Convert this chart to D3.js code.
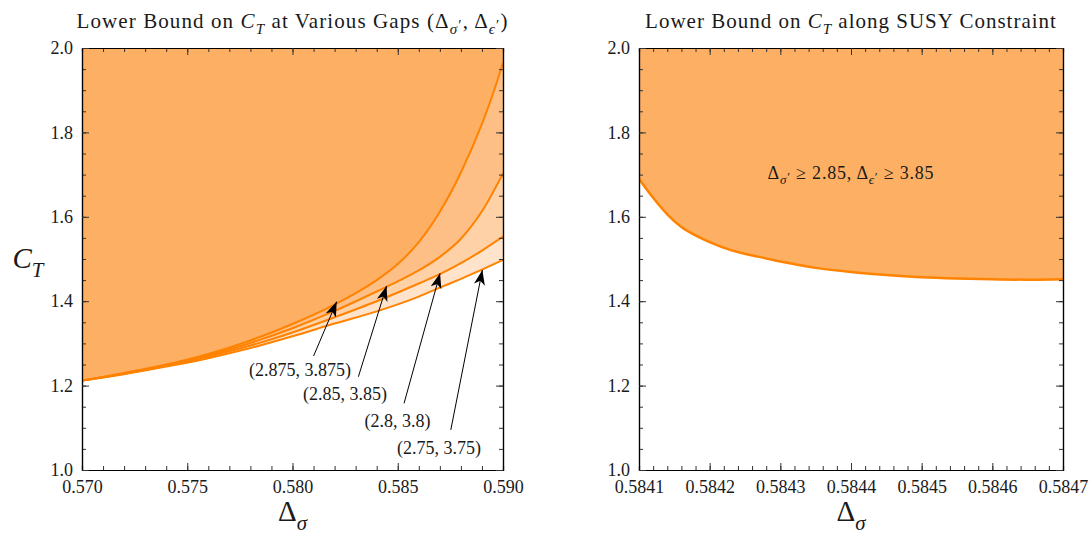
<!DOCTYPE html>
<html>
<head>
<meta charset="utf-8">
<script src="https://cdn.jsdelivr.net/npm/d3@7"></script>
<style>
body { margin: 0; background: #fff; }
text { font-family: "Liberation Serif", "Times New Roman", serif; fill: #1a1a1a; }
</style>
</head>
<body>
<script>
var width = 1089,
    height = 534;

// left panel: lower bound on C_T for several gap assumptions (sigma', epsilon')
var gapLabels = ["(2.875, 3.875)", "(2.85, 3.85)", "(2.8, 3.8)", "(2.75, 3.75)"];
var curveA = [[0.570,1.212],[0.572,1.230],[0.574,1.250],[0.576,1.275],[0.578,1.307],[0.580,1.346],[0.582,1.392],[0.583,1.419],[0.584,1.450],[0.585,1.488],[0.586,1.540],[0.587,1.612],[0.588,1.705],[0.589,1.820],[0.5895,1.888],[0.590,1.965]];
var curveB = [[0.570,1.212],[0.572,1.229],[0.574,1.248],[0.576,1.272],[0.578,1.301],[0.580,1.336],[0.582,1.377],[0.584,1.423],[0.585,1.447],[0.586,1.473],[0.587,1.505],[0.588,1.548],[0.589,1.613],[0.590,1.703]];
var curveC = [[0.570,1.212],[0.572,1.228],[0.574,1.247],[0.576,1.269],[0.578,1.295],[0.580,1.326],[0.582,1.362],[0.584,1.400],[0.586,1.442],[0.587,1.464],[0.588,1.490],[0.589,1.520],[0.590,1.553]];
var curveD = [[0.570,1.212],[0.572,1.227],[0.574,1.245],[0.576,1.265],[0.578,1.289],[0.580,1.317],[0.582,1.347],[0.584,1.376],[0.586,1.411],[0.587,1.432],[0.588,1.453],[0.589,1.475],[0.590,1.498]];
var leftCurves = [curveA, curveB, curveC, curveD];

// arrow annotations (data coords)
var arrowTips  = [[0.58210,1.399],[0.58447,1.436],[0.58701,1.466],[0.58902,1.474]];
var arrowTails = [[0.58100,1.270],[0.58313,1.221],[0.58530,1.158],[0.58752,1.095]];
var labelPos   = [[0.58036,1.237],[0.58249,1.180],[0.58499,1.116],[0.58696,1.052]];

// right panel: SUSY constraint curve
var susyCurve = [[0.58410,1.690],[0.58412,1.645],[0.58414,1.606],[0.58416,1.576],[0.58418,1.556],[0.58420,1.540],[0.58423,1.521],[0.58427,1.505],[0.58430,1.494],[0.58435,1.479],[0.58440,1.469],[0.58445,1.462],[0.58450,1.457],[0.58455,1.454],[0.58460,1.452],[0.58465,1.451],[0.58470,1.452]];

// ticks
var yTicks = [1.0, 1.2, 1.4, 1.6, 1.8, 2.0];
var leftXTicks = [0.570, 0.575, 0.580, 0.585, 0.590];
var rightXTicks = [0.5841, 0.5842, 0.5843, 0.5844, 0.5845, 0.5846, 0.5847];

var fillColors = ["#fdb064", "#fdbf85", "#fed1a6", "#ffe3ca"];
var lineColor = "#ff8200";

var svg = d3.select("body").append("svg")
    .attr("width", width)
    .attr("height", height);

var defs = svg.append("defs");
defs.append("marker")
    .attr("id", "head")
    .attr("markerUnits", "userSpaceOnUse")
    .attr("viewBox", "-15 -6 16 12")
    .attr("refX", 0).attr("refY", 0)
    .attr("markerWidth", 16).attr("markerHeight", 12)
    .attr("orient", "auto")
  .append("path")
    .attr("d", "M0,0 L-15,-5.5 L-11,0 L-15,5.5 Z")
    .attr("fill", "#000");

// rich text helper: parts = [text, style]; i italic, s subscript, p prime on a subscript
function rich(sel, parts, size) {
  var shift = 0;
  parts.forEach(function(p) {
    var st = p[1] || "";
    var target = st.indexOf("s") >= 0 ? size * 0.3 : st.indexOf("p") >= 0 ? size * 0.1 : 0;
    var t = sel.append("tspan").text(p[0]).attr("dy", target - shift);
    shift = target;
    if (st.indexOf("i") >= 0) t.attr("font-style", "italic");
    if (st.indexOf("s") >= 0 || st.indexOf("p") >= 0) t.attr("font-size", size * 0.72);
  });
  return sel;
}

function panel(x0, x1, xDomain, xTicks, xStep, fmt, id) {
  var x = d3.scaleLinear().domain(xDomain).range([x0, x1]);
  var y = d3.scaleLinear().domain([1, 2]).range([470, 48]);
  var g = svg.append("g");

  defs.append("clipPath").attr("id", id)
    .append("rect").attr("x", x0).attr("y", 48).attr("width", x1 - x0).attr("height", 422);

  var xMinor = d3.range(xDomain[0], xDomain[1] + xStep / 2, xStep);
  var yMinor = d3.range(1, 2.001, 0.05);

  var plot = g.append("g").attr("clip-path", "url(#" + id + ")");

  // frame and ticks
  function styleAxis(a) {
    a.attr("font-family", "Liberation Serif").attr("font-size", 18);
    a.selectAll("line").attr("stroke", "#333");
    a.select(".domain").attr("stroke", "#000").attr("stroke-width", 1.2);
  }
  var fr = g.append("g");
  fr.append("g").attr("transform", "translate(0,470)")
    .call(d3.axisBottom(x).tickValues(xMinor).tickSize(-4).tickFormat(""));
  fr.append("g").attr("transform", "translate(0,48)")
    .call(d3.axisTop(x).tickValues(xMinor).tickSize(-4).tickFormat(""));
  fr.append("g").attr("transform", "translate(" + x0 + ",0)")
    .call(d3.axisLeft(y).tickValues(yMinor).tickSize(-4).tickFormat(""));
  fr.append("g").attr("transform", "translate(" + x1 + ",0)")
    .call(d3.axisRight(y).tickValues(yMinor).tickSize(-4).tickFormat(""));
  fr.append("g").attr("transform", "translate(0,470)")
    .call(d3.axisBottom(x).tickValues(xTicks).tickSizeInner(-7).tickSizeOuter(0).tickPadding(10).tickFormat(fmt));
  fr.append("g").attr("transform", "translate(0,48)")
    .call(d3.axisTop(x).tickValues(xTicks).tickSizeInner(-7).tickSizeOuter(0).tickFormat(""));
  fr.append("g").attr("transform", "translate(" + x0 + ",0)")
    .call(d3.axisLeft(y).tickValues(yTicks).tickSizeInner(-7).tickSizeOuter(0).tickPadding(9).tickFormat(d3.format(".1f")));
  fr.append("g").attr("transform", "translate(" + x1 + ",0)")
    .call(d3.axisRight(y).tickValues(yTicks).tickSizeInner(-7).tickSizeOuter(0).tickFormat(""));
  fr.selectAll("g").each(function() { styleAxis(d3.select(this)); });
  fr.selectAll("text").attr("fill", "#1a1a1a");

  // x label
  rich(g.append("text").attr("x", (x0 + x1) / 2).attr("y", 521)
      .attr("text-anchor", "middle").attr("font-size", 29),
    [["\u0394"], ["\u03c3", "is"]], 29);

  return {x: x, y: y, g: g, plot: plot, frame: fr};
}

// ---- left panel ----
var L = panel(82, 503, [0.570, 0.590], leftXTicks, 0.001, d3.format(".3f"), "clipL");

var areaL = d3.area()
    .x(function(d) { return L.x(d[0]); })
    .y0(L.y(2.05))
    .y1(function(d) { return L.y(d[1]); })
    .curve(d3.curveMonotoneX);
var lineL = d3.line()
    .x(function(d) { return L.x(d[0]); })
    .y(function(d) { return L.y(d[1]); })
    .curve(d3.curveMonotoneX);

// lightest first so darker ones paint on top
leftCurves.slice().reverse().forEach(function(c, i) {
  L.plot.append("path").datum(c)
    .attr("d", areaL)
    .attr("fill", fillColors[leftCurves.length - 1 - i]);
});
leftCurves.forEach(function(c) {
  L.plot.append("path").datum(c)
    .attr("d", lineL)
    .attr("fill", "none")
    .attr("stroke", lineColor)
    .attr("stroke-width", 2);
});
L.frame.raise();

arrowTips.forEach(function(tip, i) {
  L.g.append("line")
    .attr("x1", L.x(arrowTails[i][0])).attr("y1", L.y(arrowTails[i][1]))
    .attr("x2", L.x(tip[0])).attr("y2", L.y(tip[1]))
    .attr("stroke", "#000").attr("stroke-width", 1)
    .attr("marker-end", "url(#head)");
  L.g.append("text")
    .attr("x", L.x(labelPos[i][0])).attr("y", L.y(labelPos[i][1]) + 6)
    .attr("text-anchor", "middle").attr("font-size", 18)
    .text(gapLabels[i]);
});

// left title and y label
rich(svg.append("text").attr("x", 292.5).attr("y", 28).attr("text-anchor", "middle")
    .attr("font-size", 21).attr("letter-spacing", 1.1),
  [["Lower Bound on "], ["C", "i"], ["T", "is"], [" at Various Gaps ("], ["\u0394"], ["\u03c3", "is"], ["\u2032", "p"],
   [", \u0394"], ["\u03f5", "is"], ["\u2032", "p"], [")"]], 21);
rich(svg.append("text").attr("x", 28).attr("y", 268).attr("text-anchor", "middle").attr("font-size", 29),
  [["C", "i"], ["T", "is"]], 29);

// ---- right panel ----
var R = panel(639, 1063, [0.5841, 0.5847], rightXTicks, 0.00002, d3.format(".4f"), "clipR");

var areaR = d3.area()
    .x(function(d) { return R.x(d[0]); })
    .y0(R.y(2.05))
    .y1(function(d) { return R.y(d[1]); })
    .curve(d3.curveMonotoneX);
R.plot.append("path").datum(susyCurve).attr("d", areaR).attr("fill", fillColors[0]);
R.plot.append("path").datum(susyCurve)
  .attr("d", d3.line().x(function(d) { return R.x(d[0]); }).y(function(d) { return R.y(d[1]); }).curve(d3.curveMonotoneX))
  .attr("fill", "none").attr("stroke", lineColor).attr("stroke-width", 2.5);
R.frame.raise();

rich(R.g.append("text").attr("x", R.x(0.5844)).attr("y", 179).attr("text-anchor", "middle")
    .attr("font-size", 18).attr("letter-spacing", 0.8),
  [["\u0394"], ["\u03c3", "is"], ["\u2032", "p"], [" \u2265 2.85,  \u0394"], ["\u03f5", "is"], ["\u2032", "p"], [" \u2265 3.85"]], 18);

rich(svg.append("text").attr("x", 851).attr("y", 28).attr("text-anchor", "middle")
    .attr("font-size", 21).attr("letter-spacing", 1),
  [["Lower Bound on "], ["C", "i"], ["T", "is"], [" along SUSY Constraint"]], 21);
</script>
</body>
</html>
